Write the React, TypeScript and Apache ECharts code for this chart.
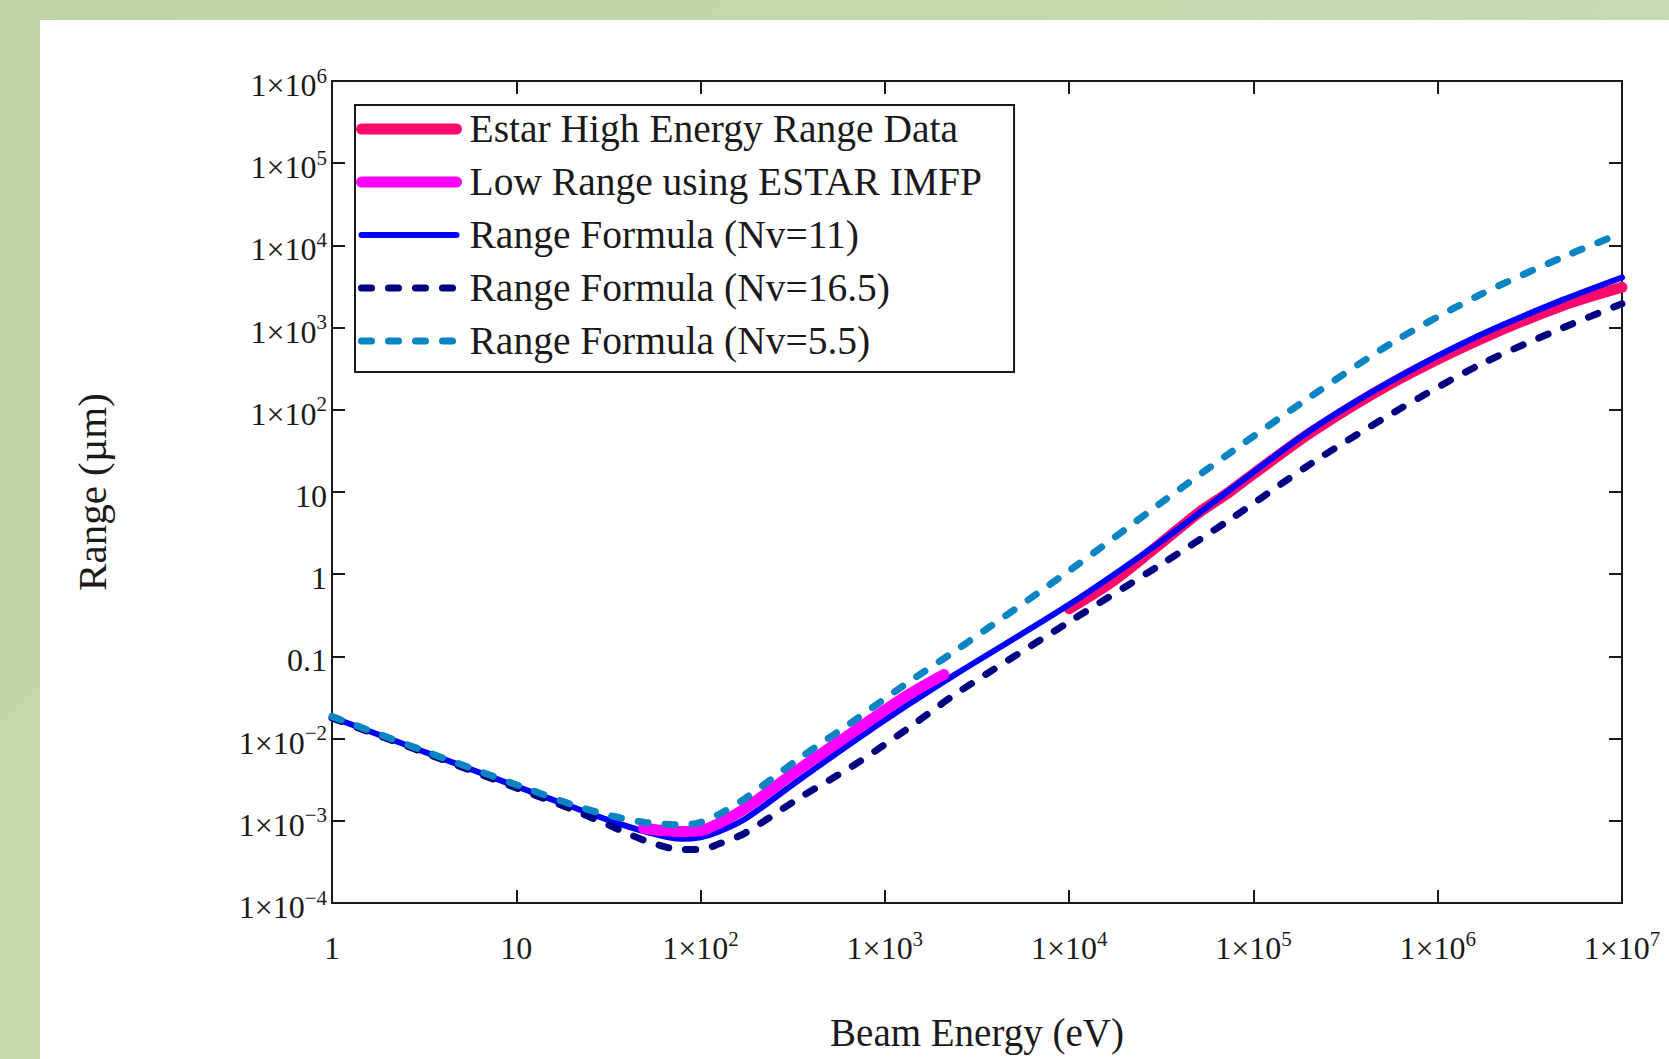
import React, { useEffect, useRef } from "react";
import * as echarts from "echarts";

// ---- data ----
const seriesNames = [
  "Estar High Energy Range Data",
  "Low Range using ESTAR IMFP",
  "Range Formula (Nv=11)",
  "Range Formula (Nv=16.5)",
  "Range Formula (Nv=5.5)",
];

// beam energies (eV) shared by the three formula curves
const energies = [1, 3.16, 10, 20, 31.6, 50, 79, 100, 126, 174, 339, 661, 1290, 2450, 1e4, 3.16e4, 7.4e4, 2.1e5, 5.9e5, 1.7e6, 4.8e6, 1e7];
// range (µm)
const rangeNv11 = [0.0182, 0.00692, 0.00263, 0.00148, 0.00102, 0.000741, 0.000603, 0.000631, 0.000741, 0.00105, 0.00309, 0.00891, 0.0245, 0.0617, 0.427, 2.51, 10.5, 58.9, 240, 813, 2188, 4074];
const rangeNv16 = [0.0178, 0.00676, 0.00251, 0.00138, 0.000891, 0.000575, 0.000447, 0.000447, 0.000525, 0.000708, 0.00186, 0.00457, 0.0126, 0.0355, 0.263, 1.32, 4.57, 22.9, 95.5, 355, 1000, 1950];
const rangeNv5 = [0.0186, 0.00708, 0.00275, 0.00158, 0.00117, 0.000955, 0.000891, 0.000955, 0.0012, 0.00186, 0.00562, 0.0158, 0.0457, 0.12, 1.1, 7.41, 29.5, 151, 692, 2512, 7244, 14125];

const lowEnergies = [49, 63, 79, 100, 126, 174, 339, 661, 1290, 2090];
const lowRange = [0.000813, 0.000759, 0.000741, 0.000759, 0.000933, 0.00141, 0.00417, 0.0117, 0.0324, 0.0603];

const highEnergies = [1e4, 1.74e4, 3.16e4, 5e4, 7.4e4, 1e5, 2.1e5, 5.9e5, 1.7e6, 4.8e6, 1e7];
const highRange = [0.38, 0.832, 2.4, 5.5, 10.0, 16.6, 55.0, 224, 724, 1862, 3090];

const xMin = 1;
const xMax = 1e7;
const yMin = 1e-4;
const yMax = 1e6;

// ---- styling ----
const FONT = "'Liberation Serif', 'Times New Roman', serif";
const INK = "#1a1a1a";

const pairs = (xs: number[], ys: number[]) => xs.map((x, i) => [x, ys[i]]);

const tickLabel = (v: number) => {
  const e = Math.round(Math.log10(v));
  if (e === 0) return "{b|1}";
  if (e === 1) return "{b|10}";
  if (e === -1) return "{b|0.1}";
  return `{b|1\u00d710}{s|${e < 0 ? "\u2212" + -e : e}}`;
};

const rich = {
  b: { fontSize: 32, fontFamily: FONT, color: INK, lineHeight: 32, padding: [8, 0, 0, 0] },
  s: { fontSize: 21, fontFamily: FONT, color: INK, lineHeight: 22, verticalAlign: "top" },
};

const axisCommon: any = {
  type: "log",
  logBase: 10,
  axisLine: { show: true, onZero: false, lineStyle: { color: INK, width: 2 } },
  axisTick: { show: true, inside: true, length: 13, lineStyle: { color: INK, width: 2 } },
  minorTick: { show: false },
  splitLine: { show: false },
  minorSplitLine: { show: false },
};

export default function App() {
  const ref = useRef<HTMLDivElement>(null);

  useEffect(() => {
    if (!ref.current) return;
    const chart = echarts.init(ref.current, undefined, { renderer: "svg" });
    const dash = [10, 17];
    const option: any = {
      animation: false,
      backgroundColor: "transparent",
      grid: { left: 332, right: 47, top: 81, bottom: 156, containLabel: false },
      legend: {
        orient: "vertical",
        left: 355,
        top: 105,
        data: seriesNames,
        itemWidth: 95,
        itemHeight: 20,
        itemGap: 9,
        padding: [2, 32, 9, 1],
        borderColor: INK,
        borderWidth: 2,
        backgroundColor: "#ffffff",
        selectedMode: false,
        itemStyle: { opacity: 0 },
        lineStyle: { width: "inherit", type: "inherit", color: "inherit", cap: "round" },
        textStyle: { fontSize: 39.5, fontFamily: FONT, color: INK, lineHeight: 44, padding: [0, 0, 0, 8] },
      },
      xAxis: [
        {
          ...axisCommon,
          min: xMin,
          max: xMax,
          splitNumber: 7,
          position: "bottom",
          axisLabel: { show: true, margin: 25, formatter: tickLabel, rich },
          name: "Beam Energy (eV)",
          nameLocation: "middle",
          nameGap: 110,
          nameTextStyle: { fontSize: 39, fontFamily: FONT, color: INK },
        },
        {
          ...axisCommon,
          min: xMin,
          max: xMax,
          splitNumber: 7,
          position: "top",
          axisLabel: { show: false },
        },
      ],
      yAxis: [
        {
          ...axisCommon,
          min: yMin,
          max: yMax,
          splitNumber: 10,
          position: "left",
          axisLabel: { show: true, margin: 5, formatter: tickLabel, rich },
          name: "Range (\u00b5m)",
          nameLocation: "middle",
          nameGap: 220,
          nameTextStyle: { fontSize: 41, fontFamily: FONT, color: INK },
        },
        {
          ...axisCommon,
          min: yMin,
          max: yMax,
          splitNumber: 10,
          position: "right",
          axisLabel: { show: false },
        },
      ],
      series: [
        {
          name: seriesNames[0],
          type: "line",
          data: pairs(highEnergies, highRange),
          symbol: "none",
          smooth: 0.3,
          color: "#ff0a6c",
          lineStyle: { color: "#ff0a6c", width: 11, cap: "round" },
          z: 2,
          silent: true,
        },
        {
          name: seriesNames[1],
          type: "line",
          data: pairs(lowEnergies, lowRange),
          symbol: "none",
          smooth: 0.3,
          color: "#ff00ff",
          lineStyle: { color: "#ff00ff", width: 11, cap: "round" },
          z: 4,
          silent: true,
        },
        {
          name: seriesNames[2],
          type: "line",
          data: pairs(energies, rangeNv11),
          symbol: "none",
          smooth: 0.3,
          color: "#0000ff",
          lineStyle: { color: "#0000ff", width: 6, cap: "round" },
          z: 3,
          silent: true,
        },
        {
          name: seriesNames[3],
          type: "line",
          data: pairs(energies, rangeNv16),
          symbol: "none",
          smooth: 0.3,
          color: "#000080",
          lineStyle: { color: "#000080", width: 7, type: dash, cap: "round" },
          z: 5,
          silent: true,
        },
        {
          name: seriesNames[4],
          type: "line",
          data: pairs(energies, rangeNv5),
          symbol: "none",
          smooth: 0.3,
          color: "#0a84c2",
          lineStyle: { color: "#0a84c2", width: 7, type: dash, cap: "round" },
          z: 5,
          silent: true,
        },
      ],
    };
    chart.setOption(option);
    return () => chart.dispose();
  }, []);

  return (
    <div
      style={{
        position: "fixed",
        left: 0,
        top: 0,
        width: 1669,
        height: 1059,
        overflow: "hidden",
        background: "linear-gradient(135deg, #c1d2a4 0%, #c9d8b0 50%, #d0dcbb 100%)",
      }}
    >
      <div style={{ position: "absolute", left: 40, top: 20, right: 0, bottom: 0, background: "#ffffff" }} />
      <div ref={ref} style={{ position: "absolute", left: 0, top: 0, width: 1669, height: 1059 }} />
    </div>
  );
}
